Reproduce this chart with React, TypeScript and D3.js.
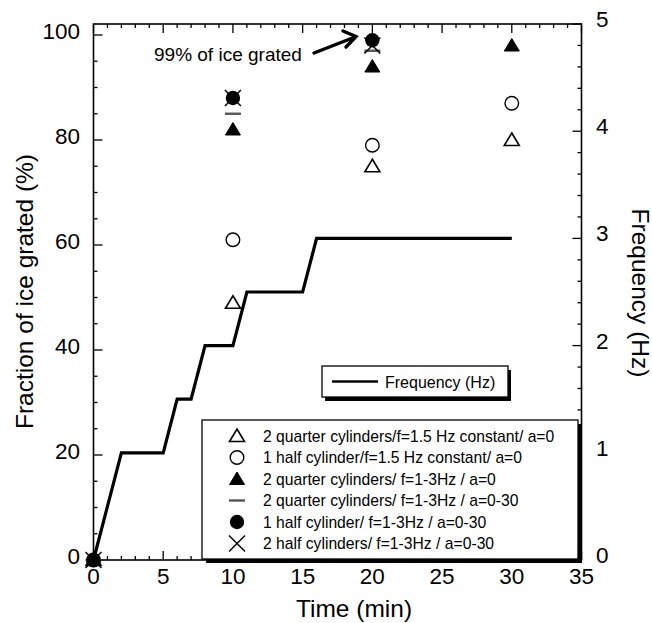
import * as d3 from "d3";

// time points (min) for the grating measurements
const times = [0, 10, 20, 30];
const quarterConst = [0, 49, 75, 80]; // open triangle
const halfConst = [0, 61, 79, 87]; // open circle
const quarterVar = [0, 82, 94, 98]; // filled triangle
const quarterVarA = [0, 85, 97]; // dash
const halfVarA = [0, 88, 99]; // filled circle
const twoHalfVarA = [0, 88, 98]; // cross

// frequency schedule (step line, right axis)
const freqTime = [0, 2, 5, 6, 7, 8, 10, 11, 15, 16, 30];
const freqHz = [0, 1, 1, 1.5, 1.5, 2, 2, 2.5, 2.5, 3, 3];

const xTicks = [0, 5, 10, 15, 20, 25, 30, 35];
const yTicks = [0, 20, 40, 60, 80, 100];
const hzTicks = [0, 1, 2, 3, 4, 5];

const legendLabels = [
  "2 quarter cylinders/f=1.5 Hz constant/ a=0",
  "1 half cylinder/f=1.5 Hz constant/ a=0",
  "2 quarter cylinders/ f=1-3Hz / a=0",
  "2 quarter cylinders/ f=1-3Hz / a=0-30",
  "1 half cylinder/ f=1-3Hz / a=0-30",
  "2 half cylinders/ f=1-3Hz / a=0-30",
];

const FONT = "'Liberation Sans', Arial, Helvetica, sans-serif";

type Kind = "openTri" | "openCircle" | "filledTri" | "dash" | "filledCircle" | "cross";

function Marker({ kind, cx, cy }: { kind: Kind; cx: number; cy: number }) {
  const tri = `M${cx},${cy - 7} L${cx + 7.5},${cy + 5.5} L${cx - 7.5},${cy + 5.5} Z`;
  switch (kind) {
    case "openTri":
      return <path d={tri} fill="white" stroke="black" strokeWidth={1.6} />;
    case "filledTri":
      return <path d={tri} fill="black" stroke="black" strokeWidth={1} />;
    case "openCircle":
      return <circle cx={cx} cy={cy} r={6.8} fill="white" stroke="black" strokeWidth={1.4} />;
    case "filledCircle":
      return <circle cx={cx} cy={cy} r={7.2} fill="black" />;
    case "dash":
      return <line x1={cx - 8} x2={cx + 8} y1={cy} y2={cy} stroke="#555" strokeWidth={2.4} />;
    case "cross":
      return (
        <g stroke="black" strokeWidth={1.5}>
          <line x1={cx - 8} x2={cx + 8} y1={cy - 8} y2={cy + 8} />
          <line x1={cx - 8} x2={cx + 8} y1={cy + 8} y2={cy - 8} />
        </g>
      );
  }
}

export default function App() {
  const width = 652;
  const height = 623;

  const x = d3.scaleLinear().domain([0, 35]).range([93.5, 581.5]);
  const y = d3.scaleLinear().domain([0, 100]).range([560, 35]);
  const yHz = d3.scaleLinear().domain([0, 5]).range([560, 24]);

  const left = x(0);
  const right = x(35);
  const top = yHz(5);
  const bottom = y(0);

  const freqLine = d3
    .line<number>()
    .x((_, i) => x(freqTime[i]))
    .y((d) => yHz(d));

  const series: { kind: Kind; values: number[] }[] = [
    { kind: "openTri", values: quarterConst },
    { kind: "openCircle", values: halfConst },
    { kind: "filledTri", values: quarterVar },
    { kind: "dash", values: quarterVarA },
    { kind: "cross", values: twoHalfVarA },
    { kind: "filledCircle", values: halfVarA },
  ];
  const legendKinds: Kind[] = ["openTri", "openCircle", "filledTri", "dash", "filledCircle", "cross"];

  const xMinor = d3.range(0, 36, 1);
  const yMinor = d3.range(0, 101, 5);
  const hzMinor = d3.range(0, 5.01, 0.2);

  return (
    <svg
      width={width}
      height={height}
      style={{ position: "absolute", left: 0, top: 0, background: "white" }}
      fontFamily={FONT}
    >
      {/* frequency step line */}
      <path d={freqLine(freqHz) ?? ""} fill="none" stroke="black" strokeWidth={3.2} strokeLinejoin="miter" />

      {/* ticks */}
      <g stroke="black" strokeWidth={1.3}>
        {xMinor.map((t) => {
          const major = t % 5 === 0;
          const len = major ? 9 : 4;
          return (
            <g key={`x${t}`}>
              <line x1={x(t)} x2={x(t)} y1={bottom} y2={bottom - len} />
              <line x1={x(t)} x2={x(t)} y1={top} y2={top + len} />
            </g>
          );
        })}
        {yMinor.map((t) => (
          <line key={`y${t}`} x1={left} x2={left + (t % 20 === 0 ? 9 : 4)} y1={y(t)} y2={y(t)} />
        ))}
        {hzMinor.map((t) => {
          const major = Math.abs(t - Math.round(t)) < 1e-6;
          return <line key={`h${t}`} x1={right} x2={right - (major ? 9 : 4)} y1={yHz(t)} y2={yHz(t)} />;
        })}
      </g>

      {/* frame */}
      <rect x={left} y={top} width={right - left} height={bottom - top} fill="none" stroke="black" strokeWidth={1.6} />

      {/* tick labels */}
      <g fontSize={22.5} fill="black">
        {xTicks.map((t) => (
          <text key={t} x={x(t)} y={584} textAnchor="middle">
            {t}
          </text>
        ))}
        {yTicks.map((t) => (
          <text key={t} x={left - 13.5} y={y(t) + 3.5} textAnchor="end">
            {t}
          </text>
        ))}
        {hzTicks.map((t) => (
          <text key={t} x={right + 14.5} y={yHz(t) + 3} textAnchor="start">
            {t}
          </text>
        ))}
      </g>

      {/* axis titles */}
      <text x={354} y={617} fontSize={24.5} textAnchor="middle">
        Time (min)
      </text>
      <text transform={`translate(33,291.5) rotate(-90)`} fontSize={24.5} textAnchor="middle">
        Fraction of ice grated (%)
      </text>
      <text transform={`translate(631.5,293) rotate(90)`} fontSize={24.5} textAnchor="middle">
        Frequency (Hz)
      </text>

      {/* frequency legend */}
      <rect x={325} y={370} width={186} height={31} fill="black" />
      <rect x={322} y={366} width={186} height={31} fill="white" stroke="black" strokeWidth={1.3} />
      <line x1={332} x2={378} y1={381.5} y2={381.5} stroke="black" strokeWidth={2.6} />
      <text x={385} y={387.5} fontSize={16}>
        Frequency (Hz)
      </text>

      {/* series legend */}
      <rect x={206} y={424} width={376} height={139} fill="black" />
      <rect x={202} y={420} width={376} height={139} fill="white" stroke="black" strokeWidth={1.3} />
      {legendLabels.map((label, i) => {
        const cy = 436 + i * 21.5;
        return (
          <g key={label}>
            <Marker kind={legendKinds[i]} cx={237} cy={cy} />
            <text x={263} y={cy + 5.5} fontSize={15.7}>
              {label}
            </text>
          </g>
        );
      })}

      {/* data markers */}
      {series.map((s) =>
        s.values.map((v, i) => <Marker key={`${s.kind}${i}`} kind={s.kind} cx={x(times[i])} cy={y(v)} />)
      )}

      {/* annotation */}
      <text x={154} y={61} fontSize={19}>
        99% of ice grated
      </text>
      <g stroke="black" strokeWidth={3.4} fill="none" strokeLinecap="round">
        <line x1={314} y1={53} x2={355} y2={37} />
        <polyline points="343,31 356,36.5 346,47" />
      </g>
    </svg>
  );
}
